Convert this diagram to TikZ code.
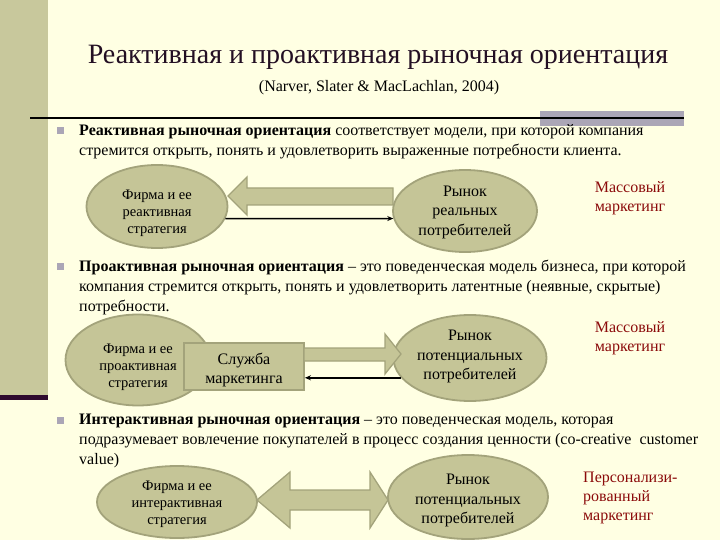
\documentclass[tikz,border=0pt]{standalone}
\usepackage{fontspec}
\setmainfont{Liberation Serif}
\usetikzlibrary{arrows.meta, positioning, calc, shapes.geometric}
\definecolor{slidebg}{HTML}{FFFFE3}
\definecolor{band}{HTML}{C8C89C}
\definecolor{plum}{HTML}{2E0A2E}
\definecolor{olive}{HTML}{C5C597}
\definecolor{oliveline}{HTML}{A3A37B}
\definecolor{lavgray}{HTML}{ABA6B6}
\definecolor{mktred}{HTML}{8B0A0A}
\definecolor{titleink}{HTML}{230F23}
\tikzset{
  oval/.style={ellipse, draw=oliveline, fill=olive, line width=1.8pt, inner sep=0pt},
  servbox/.style={draw=oliveline, fill=olive, line width=1.8pt, inner sep=0pt,
    minimum width=120pt, minimum height=47pt},
  blockarrow/.style={draw=oliveline, fill=olive, line width=1.3pt, line join=miter},
  thinarrow/.style={->, line width=1.5pt},
  para/.style={anchor=base west, align=left, inner sep=0pt, font=\fontsize{16}{20}\selectfont},
  bullet/.style={fill=lavgray, minimum size=7pt, inner sep=0pt},
  mkt/.style={text=mktred, inner sep=0pt, font=\fontsize{16}{19}\selectfont},
  firmtext/.style={align=center, inner sep=0pt, font=\fontsize{14.5}{17}\selectfont},
  markettext/.style={align=center, inner sep=0pt, font=\fontsize{16}{19.5}\selectfont},
}
\begin{document}
\begin{tikzpicture}[x=1pt, y=-1pt, >={Stealth[length=6pt, width=5pt]}]
  % slide background
  \fill[slidebg] (0,0) rectangle (720,540);
  \fill[band] (0,0) rectangle (48,395);
  \fill[plum] (0,395) rectangle (48,400);
  \fill[lavgray] (540,111) rectangle (684,126);
  \draw[line width=2pt] (30,118) -- (684,118);

  % title
  \node[text=titleink, font=\fontsize{28}{30}\selectfont] (title) at (378,57)
    {Реактивная и проактивная рыночная ориентация};
  \node[font=\fontsize{16}{18}\selectfont] (source) at (379,88)
    {(Narver, Slater \& MacLachlan, 2004)};

  % reactive
  \node[bullet] (b1) at (60,131) {};
  \node[para] (p1) at (79,156)
    {\textbf{Реактивная рыночная ориентация} соответствует модели, при которой компания\\
     стремится открыть, понять и удовлетворить выраженные потребности клиента.};
  \node[oval, minimum width=141pt, minimum height=83pt,
    label={[firmtext, yshift=-7pt]center:Фирма и ее\\реактивная\\стратегия}] (firmA) at (157,206.5) {};
  \node[oval, minimum width=144pt, minimum height=82pt,
    label={[markettext, yshift=-1pt]center:Рынок\\реальных\\потребителей}] (mktA) at (465,211) {};
  \node[mkt, align=center] (massA) at (630,198) {Массовый\\маркетинг};
  \draw[blockarrow] (228,196) -- (247,177) -- (247,188) -- (393,188)
    -- (393,205) -- (247,205) -- (247,215) -- cycle;
  \draw[thinarrow] (firmA.-10.5) -- (mktA.186.5);

  % proactive
  \node[bullet] (b2) at (60,266) {};
  \node[para] (p2) at (79,311)
    {\textbf{Проактивная рыночная ориентация} -- это поведенческая модель бизнеса, при которой\\
     компания стремится открыть, понять и удовлетворить латентные (неявные, скрытые)\\
     потребности.};
  \node[oval, minimum width=145pt, minimum height=91pt,
    label={[firmtext, yshift=-7pt]center:Фирма и ее\\проактивная\\стратегия}] (firmB) at (138,360) {};
  \node[servbox, label={[markettext, yshift=-3.5pt]center:Служба\\маркетинга}]
    (servB) at (244,366.5) {};
  \node[oval, minimum width=153pt, minimum height=86pt,
    label={[markettext, yshift=1.5pt]center:Рынок\\потенциальных\\потребителей}] (mktB) at (470,358) {};
  \node[mkt, align=center] (massB) at (630,338) {Массовый\\маркетинг};
  \draw[blockarrow] (304,348) -- (385,348) -- (385,334) -- (401,354)
    -- (385,374) -- (385,361) -- (304,361) -- cycle;
  \draw[thinarrow] (mktB.196.5) -- (mktB.196.5 -| servB.east);

  % interactive
  \node[bullet] (b3) at (60,420) {};
  \node[para] (p3) at (79,464)
    {\textbf{Интерактивная рыночная ориентация} -- это поведенческая модель, которая\\
     подразумевает вовлечение покупателей в процесс создания ценности (co-creative~ customer\\
     value)};
  \node[oval, minimum width=160pt, minimum height=72pt,
    label={[firmtext, yshift=-2pt]center:Фирма и ее\\интерактивная\\стратегия}] (firmC) at (177,502) {};
  \node[oval, minimum width=160pt, minimum height=84pt,
    label={[markettext, yshift=-3.5pt]center:Рынок\\потенциальных\\потребителей}] (mktC) at (468,497) {};
  \node[mkt, align=left, anchor=west] (persC) at (583,498)
    {Персонализи-\\рованный\\маркетинг};
  \draw[blockarrow] (257,500) -- (290,472) -- (290,490) -- (370,490) -- (370,472)
    -- (388,500) -- (370,528) -- (370,510) -- (290,510) -- (290,528) -- cycle;
\end{tikzpicture}
\end{document}
